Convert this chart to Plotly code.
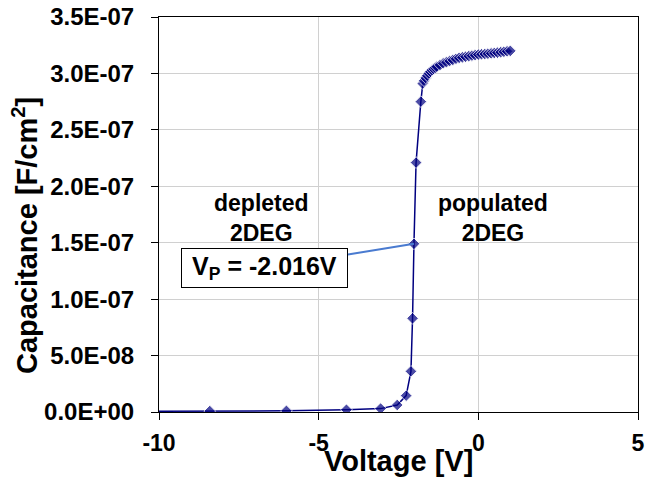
import plotly.graph_objects as go

# Data
voltage = [-10.0, -8.41, -6.01, -4.13, -3.06, -2.54, -2.26, -2.11, -2.06, -2.016, -1.95,
           -1.80, -1.74, -1.70, -1.65, -1.60, -1.55, -1.50, -1.45, -1.40, -1.35, -1.30,
           -1.20, -1.10, -1.00, -0.90, -0.80, -0.70, -0.60, -0.50, -0.40, -0.30, -0.20,
           -0.10, 0.00, 0.10, 0.20, 0.30, 0.40, 0.50, 0.60, 0.70, 0.80, 0.90, 1.00]
capacitance = [0.7e-9, 0.8e-9, 1.0e-9, 2.0e-9, 3.0e-9, 6.2e-9, 1.45e-8, 3.6e-8, 8.3e-8, 1.49e-7, 2.21e-7,
               2.75e-7, 2.91e-7, 2.935e-7, 2.96e-7, 2.98e-7, 3.0e-7, 3.015e-7, 3.03e-7, 3.04e-7, 3.05e-7, 3.06e-7,
               3.075e-7, 3.09e-7, 3.10e-7, 3.11e-7, 3.12e-7, 3.13e-7, 3.138e-7, 3.143e-7, 3.148e-7, 3.153e-7, 3.158e-7,
               3.162e-7, 3.167e-7, 3.170e-7, 3.172e-7, 3.175e-7, 3.178e-7, 3.181e-7, 3.184e-7, 3.188e-7, 3.192e-7, 3.196e-7, 3.200e-7]
marker_sizes = [0] + [9] * (len(voltage) - 1)

x_tick_vals = [-10, -5, 0, 5]
x_tick_text = ["-10", "-5", "0", "5"]
y_tick_vals = [0, 5e-8, 1e-7, 1.5e-7, 2e-7, 2.5e-7, 3e-7, 3.5e-7]
y_tick_text = ["0.0E+00", "5.0E-08", "1.0E-07", "1.5E-07", "2.0E-07", "2.5E-07", "3.0E-07", "3.5E-07"]

vp_voltage = -2.016
vp_cap = 1.49e-7

FONT = "Liberation Sans, Arial, sans-serif"

fig = go.Figure()
fig.add_trace(go.Scatter(
    x=voltage, y=capacitance, mode="lines+markers",
    line=dict(color="#000080", width=1.5),
    marker=dict(symbol="diamond", size=marker_sizes, color="#000080"),
    showlegend=False,
))

fig.update_layout(
    width=646, height=489,
    margin=dict(l=159, r=8, t=17, b=77),
    paper_bgcolor="white", plot_bgcolor="white",
    font=dict(family=FONT, color="black"),
    xaxis=dict(
        range=[-10, 5], tickvals=x_tick_vals, ticktext=x_tick_text, ticks="outside", ticklen=7,
        tickcolor="black", automargin=False,
        showline=True, linecolor="black", linewidth=1, mirror=True,
        showgrid=True, gridcolor="#d0d0d0", gridwidth=1, zeroline=False,
        tickfont=dict(size=23, family=FONT, color="black", weight="bold"),
        ticklabelstandoff=3,
    ),
    yaxis=dict(
        range=[0, 3.5e-7], tickvals=y_tick_vals, ticktext=y_tick_text, ticks="outside",
        ticklen=7, tickcolor="black", automargin=False,
        showline=True, linecolor="black", linewidth=1, mirror=True,
        showgrid=True, gridcolor="#d0d0d0", gridwidth=1, zeroline=False,
        tickfont=dict(size=24, family=FONT, color="black", weight="bold"),
        ticklabelstandoff=12,
    ),
)

# Axis titles as annotations for precise placement
fig.add_annotation(
    x=0.5, xref="paper", y=-0.124, yref="paper", xanchor="center", yanchor="middle",
    text="<b>Voltage [V]</b>", showarrow=False,
    font=dict(size=29, family=FONT, color="black"),
)
fig.add_annotation(
    x=-0.2797, xref="paper", y=0.4456, yref="paper", xanchor="center", yanchor="middle",
    text="<b>Capacitance [F/cm<sup>2</sup>]</b>", textangle=-90, showarrow=False,
    font=dict(size=29, family=FONT, color="black"),
)
fig.add_annotation(
    x=-6.78, y=1.723e-7, text="<b>depleted<br>2DEG</b>", showarrow=False,
    font=dict(size=23, family=FONT, color="black"),
)
fig.add_annotation(
    x=0.47, y=1.723e-7, text="<b>populated<br>2DEG</b>", showarrow=False,
    font=dict(size=23, family=FONT, color="black"),
)
fig.add_annotation(
    x=vp_voltage, y=vp_cap, text="<b>V<sub>P</sub> = -2.016V</b>",
    showarrow=True, arrowhead=0, arrowwidth=2, arrowcolor="#4a7bd0",
    ax=-149, ay=24, width=157, height=30,
    bordercolor="black", borderwidth=1, borderpad=4, bgcolor="white",
    font=dict(size=25, family=FONT, color="black"),
)

fig.write_html("out.html")
